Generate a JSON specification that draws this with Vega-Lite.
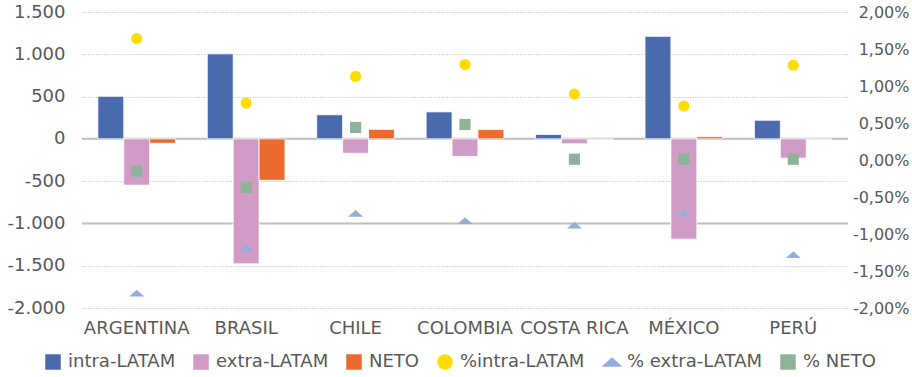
{
  "$schema": "https://vega.github.io/schema/vega-lite/v6.json",
  "width": 766,
  "height": 296,
  "autosize": {"type": "none"},
  "padding": {"left": 82, "top": 12, "right": 64, "bottom": 69},
  "config": {
    "locale": {
      "number": {"decimal": ",", "thousands": ".", "grouping": [3], "currency": ["", " €"], "minus": "-"}
    },
    "font": "DejaVu Sans",
    "view": {"stroke": null},
    "axis": {
      "labelColor": "#595959",
      "labelFontSize": 18,
      "labelFont": "DejaVu Sans",
      "domain": false,
      "ticks": false,
      "title": null
    },
    "legend": {
      "labelColor": "#595959",
      "labelFontSize": 18,
      "labelFont": "DejaVu Sans"
    }
  },
  "datasets": {
    "flujos": [
      {"pais": "ARGENTINA", "serie": "intra-LATAM", "valor": 503},
      {"pais": "ARGENTINA", "serie": "extra-LATAM", "valor": -547},
      {"pais": "ARGENTINA", "serie": "NETO", "valor": -52},
      {"pais": "BRASIL", "serie": "intra-LATAM", "valor": 1005},
      {"pais": "BRASIL", "serie": "extra-LATAM", "valor": -1478},
      {"pais": "BRASIL", "serie": "NETO", "valor": -490},
      {"pais": "CHILE", "serie": "intra-LATAM", "valor": 285},
      {"pais": "CHILE", "serie": "extra-LATAM", "valor": -170},
      {"pais": "CHILE", "serie": "NETO", "valor": 112},
      {"pais": "COLOMBIA", "serie": "intra-LATAM", "valor": 319},
      {"pais": "COLOMBIA", "serie": "extra-LATAM", "valor": -208},
      {"pais": "COLOMBIA", "serie": "NETO", "valor": 110},
      {"pais": "COSTA RICA", "serie": "intra-LATAM", "valor": 52},
      {"pais": "COSTA RICA", "serie": "extra-LATAM", "valor": -58},
      {"pais": "COSTA RICA", "serie": "NETO", "valor": -6},
      {"pais": "MÉXICO", "serie": "intra-LATAM", "valor": 1212},
      {"pais": "MÉXICO", "serie": "extra-LATAM", "valor": -1186},
      {"pais": "MÉXICO", "serie": "NETO", "valor": 26},
      {"pais": "PERÚ", "serie": "intra-LATAM", "valor": 220},
      {"pais": "PERÚ", "serie": "extra-LATAM", "valor": -228},
      {"pais": "PERÚ", "serie": "NETO", "valor": -5}
    ],
    "porcentajes": [
      {"pais": "ARGENTINA", "serie": "%intra-LATAM", "pct": 0.0164},
      {"pais": "ARGENTINA", "serie": "% extra-LATAM", "pct": -0.0180},
      {"pais": "ARGENTINA", "serie": "% NETO", "pct": -0.0015},
      {"pais": "BRASIL", "serie": "%intra-LATAM", "pct": 0.0077},
      {"pais": "BRASIL", "serie": "% extra-LATAM", "pct": -0.0119},
      {"pais": "BRASIL", "serie": "% NETO", "pct": -0.0037},
      {"pais": "CHILE", "serie": "%intra-LATAM", "pct": 0.0113},
      {"pais": "CHILE", "serie": "% extra-LATAM", "pct": -0.0072},
      {"pais": "CHILE", "serie": "% NETO", "pct": 0.0044},
      {"pais": "COLOMBIA", "serie": "%intra-LATAM", "pct": 0.0129},
      {"pais": "COLOMBIA", "serie": "% extra-LATAM", "pct": -0.0082},
      {"pais": "COLOMBIA", "serie": "% NETO", "pct": 0.0048},
      {"pais": "COSTA RICA", "serie": "%intra-LATAM", "pct": 0.0089},
      {"pais": "COSTA RICA", "serie": "% extra-LATAM", "pct": -0.0088},
      {"pais": "COSTA RICA", "serie": "% NETO", "pct": 0.0001},
      {"pais": "MÉXICO", "serie": "%intra-LATAM", "pct": 0.0073},
      {"pais": "MÉXICO", "serie": "% extra-LATAM", "pct": -0.0071},
      {"pais": "MÉXICO", "serie": "% NETO", "pct": 0.0001},
      {"pais": "PERÚ", "serie": "%intra-LATAM", "pct": 0.0128},
      {"pais": "PERÚ", "serie": "% extra-LATAM", "pct": -0.0128},
      {"pais": "PERÚ", "serie": "% NETO", "pct": 0.0001}
    ]
  },
  "encoding": {
    "x": {
      "field": "pais",
      "type": "nominal",
      "sort": ["ARGENTINA", "BRASIL", "CHILE", "COLOMBIA", "COSTA RICA", "MÉXICO", "PERÚ"],
      "scale": {"paddingInner": 0.29, "paddingOuter": 0.145},
      "axis": {"labelAngle": 0, "labelPadding": 11, "labelOverlap": false, "grid": false}
    }
  },
  "layer": [
    {
      "layer": [
        {
          "data": {"values": [{"nivel": 0}, {"nivel": -1000}]},
          "mark": {"type": "rule", "color": "#c0c0c0", "strokeWidth": 2},
          "encoding": {
            "x": null,
            "y": {"field": "nivel", "type": "quantitative"}
          }
        },
        {
          "data": {"name": "flujos"},
          "mark": {"type": "bar", "stroke": "#ffffff", "strokeWidth": 0.8},
          "encoding": {
            "xOffset": {
              "field": "serie",
              "type": "nominal",
              "sort": ["intra-LATAM", "extra-LATAM", "NETO"],
              "scale": {"paddingInner": 0, "paddingOuter": 0}
            },
            "y": {
              "field": "valor",
              "type": "quantitative",
              "scale": {"domain": [-2000, 1500], "nice": false, "zero": false},
              "axis": {
                "values": [-2000, -1500, -1000, -500, 0, 500, 1000, 1500],
                "format": ",.0f",
                "labelPadding": 17,
                "grid": true,
                "gridColor": "#c4c4c4",
                "gridDash": [1.2, 1.5],
                "gridWidth": 1
              }
            },
            "color": {
              "field": "serie",
              "type": "nominal",
              "scale": {
                "domain": ["intra-LATAM", "extra-LATAM", "NETO", "%intra-LATAM", "% extra-LATAM", "% NETO"],
                "range": ["#4a6aae", "#d09bc5", "#ea6a2f", "#ffdd00", "#92aedd", "#8fb399"]
              },
              "legend": {
                "orient": "none",
                "legendX": -38,
                "legendY": 341,
                "direction": "horizontal",
                "title": null,
                "symbolSize": 240,
                "symbolStrokeWidth": 0,
                "labelOffset": 6,
                "columnPadding": 16
              }
            }
          }
        }
      ]
    },
    {
      "data": {"name": "porcentajes"},
      "mark": {"type": "point", "filled": true, "opacity": 1, "size": 125},
      "encoding": {
        "y": {
          "field": "pct",
          "type": "quantitative",
          "scale": {"domain": [-0.02, 0.02], "nice": false, "zero": false},
          "axis": {
            "orient": "right",
            "values": [-0.02, -0.015, -0.01, -0.005, 0, 0.005, 0.01, 0.015, 0.02],
            "format": ".2%",
            "labelFontSize": 16,
            "labelAlign": "right",
            "labelPadding": 61,
            "grid": false
          }
        },
        "color": {"field": "serie", "type": "nominal"},
        "shape": {
          "field": "serie",
          "type": "nominal",
          "scale": {
            "domain": ["intra-LATAM", "extra-LATAM", "NETO", "%intra-LATAM", "% extra-LATAM", "% NETO"],
            "range": ["square", "square", "square", "circle", "M-1.35,0.6L1.35,0.6L0,-0.6Z", "square"]
          }
        }
      }
    }
  ],
  "resolve": {"scale": {"y": "independent"}}
}
